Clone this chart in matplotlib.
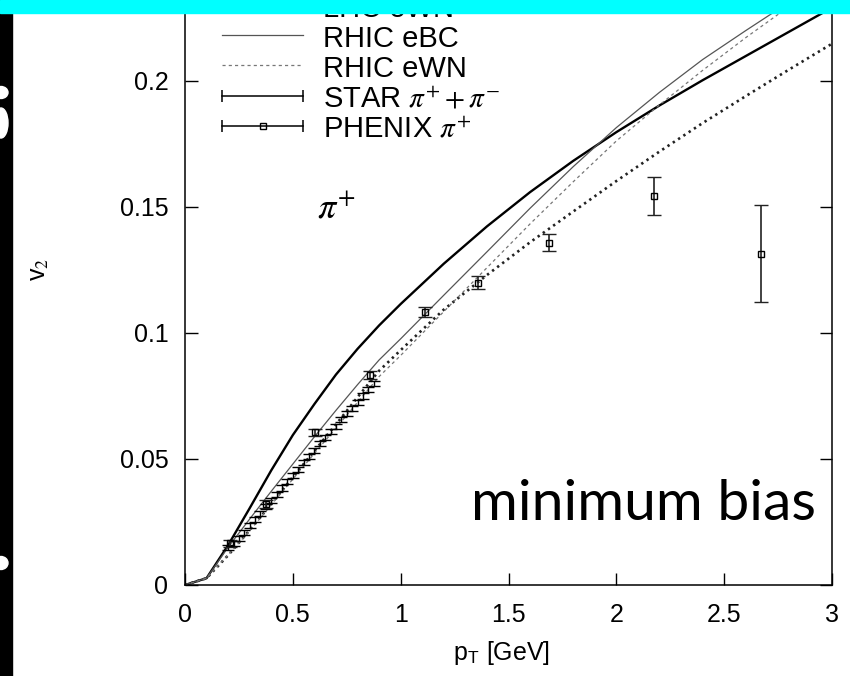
import matplotlib
matplotlib.use('Agg')
import matplotlib.pyplot as plt
from matplotlib.patches import Rectangle, Ellipse
from matplotlib.ticker import MultipleLocator, FormatStrFormatter

plt.rcParams['font.family'] = ['Liberation Sans', 'DejaVu Sans']
plt.rcParams['mathtext.fontset'] = 'stix'

# hydro curves, v2 vs pT
pt_grid = [0, 0.1, 0.2, 0.3, 0.4, 0.5, 0.6, 0.7, 0.8, 0.9, 1.0,
           1.2, 1.4, 1.6, 1.8, 2.0, 2.2, 2.4, 2.6, 2.8, 3.0]
lhc_ebc = [0, 0.0027, 0.0158, 0.0305, 0.0455, 0.0595, 0.0718, 0.0835, 0.0937, 0.1030, 0.1115,
           0.1275, 0.1423, 0.1559, 0.1683, 0.1797, 0.1903, 0.2003, 0.2099, 0.2195, 0.2291]
lhc_ewn = [0, 0.0027, 0.0118, 0.0218, 0.0322, 0.0428, 0.0532, 0.0637, 0.0745, 0.0850, 0.0932,
           0.1093, 0.1230, 0.1360, 0.1482, 0.1603, 0.1720, 0.1833, 0.1940, 0.2045, 0.2148]
rhic_ebc = [0, 0.0027, 0.0150, 0.0262, 0.0372, 0.0480, 0.0588, 0.0693, 0.0795, 0.0893, 0.0977,
            0.1150, 0.1322, 0.1495, 0.1660, 0.1815, 0.1955, 0.2085, 0.2200, 0.2312, 0.2420]
rhic_ewn = [0, 0.0027, 0.0120, 0.0215, 0.0318, 0.0420, 0.0522, 0.0623, 0.0725, 0.0827, 0.0911,
            0.1085, 0.1259, 0.1433, 0.1600, 0.1762, 0.1905, 0.2042, 0.2172, 0.2295, 0.2410]

# STAR pi+ + pi-
star_pt = [0.2, 0.225, 0.25, 0.275, 0.3, 0.325, 0.35, 0.375, 0.4, 0.425,
           0.45, 0.475, 0.5, 0.525, 0.55, 0.575, 0.6, 0.625, 0.65, 0.675,
           0.7, 0.725, 0.75, 0.775, 0.8, 0.825, 0.85, 0.875]
star_v2 = [0.0150, 0.0165, 0.0185, 0.0210, 0.0235, 0.0260, 0.0285, 0.0310, 0.0335, 0.0360,
           0.0385, 0.0410, 0.0435, 0.0460, 0.0485, 0.0510, 0.0535, 0.0560, 0.0585, 0.0610,
           0.0630, 0.0655, 0.0680, 0.0700, 0.0725, 0.0750, 0.0775, 0.0800]
star_err = [0.001] * len(star_pt)

# PHENIX pi+
phenix_pt = [0.208, 0.375, 0.602, 0.856, 1.111, 1.358, 1.69, 2.176, 2.67]
phenix_v2 = [0.0165, 0.0321, 0.0606, 0.0833, 0.1082, 0.1200, 0.1358, 0.1545, 0.1315]
phenix_err = [0.0015, 0.0015, 0.0015, 0.0015, 0.0020, 0.0027, 0.0033, 0.0075, 0.0192]

legend_labels = ['LHC eBC', 'LHC eWN', 'RHIC eBC', 'RHIC eWN',
                 r'STAR $\pi^{+}+\pi^{-}$', r'PHENIX $\pi^{+}$']

W, H = 850, 676
fig = plt.figure(figsize=(W / 100, H / 100), dpi=100)
ax = fig.add_axes([185 / W, 91 / H, 647 / W, 585 / H])

styles = [
    dict(color='k', lw=1.7, ls='-'),
    dict(color='#222222', lw=1.9, ls=(0, (0.9, 1.5))),
    dict(color='#555555', lw=0.9, ls='-'),
    dict(color='#777777', lw=0.9, ls=(0, (2.5, 2.5))),
]
for yv, st in zip([lhc_ebc, lhc_ewn, rhic_ebc, rhic_ewn], styles):
    ax.plot(pt_grid, yv, **st)

ax.errorbar(star_pt, star_v2, yerr=star_err, fmt='none', ecolor='k',
            elinewidth=1, capsize=4, capthick=1)
ax.errorbar(phenix_pt, phenix_v2, yerr=phenix_err, fmt='s', ms=4.5, mfc='none',
            mec='k', mew=1, ecolor='#222222', elinewidth=1.2, capsize=5, capthick=1.2)

ax.set_xlim(0, 3)
ax.set_ylim(0, 585 / 2520)
ax.xaxis.set_major_locator(MultipleLocator(0.5))
ax.yaxis.set_major_locator(MultipleLocator(0.05))
ax.xaxis.set_major_formatter(FormatStrFormatter('%g'))
ax.yaxis.set_major_formatter(FormatStrFormatter('%g'))
ax.tick_params(direction='in', length=9, width=1, top=True, right=True, labelsize=18)
ax.tick_params(axis='y', pad=12)
ax.tick_params(axis='x', pad=13)
for sp in ax.spines.values():
    sp.set_linewidth(1.1)

ax.set_ylabel(r'v$_2$', fontsize=18)
ax.yaxis.set_label_coords(-0.207, 0.54)
ax.set_xlabel(r'p$_\mathregular{T}$ [GeV]', fontsize=18)
ax.xaxis.set_label_coords(0.49, -0.093)

ax.text(0.61, 0.1456, r'$\pi^{+}$', fontsize=26, va='baseline')
ax.text(1.327, 0.0258, 'minimum bias', fontsize=41, family='Lato', va='baseline')

# hand-drawn legend rows (gnuplot style)
hx0, hx1, tx = (222 - 185) / 647, (303 - 185) / 647, (323 - 185) / 647
for i, lab in enumerate(legend_labels):
    row = 126 - (5 - i) * 30.3
    yr = (585 - row) / 585
    yb = (585 - row - 12) / 585
    if i < 4:
        ax.plot([hx0, hx1], [yr, yr], transform=ax.transAxes, clip_on=False, **styles[i])
    else:
        ax.plot([hx0, hx1], [yr, yr], color='k', lw=1.1, marker='|', ms=9, mew=1.1,
                transform=ax.transAxes, clip_on=False)
        if i == 5:
            ax.plot([(hx0 + hx1) / 2], [yr], 's', ms=4, mfc='none', mec='k', mew=1,
                    transform=ax.transAxes, clip_on=False)
    ax.text(tx, yb, lab, fontsize=21, va='baseline', transform=ax.transAxes)

# slide frame remnants
fig.add_artist(Rectangle((0, 0), 12 / W, 1, transform=fig.transFigure, color='k', zorder=10))
for cy, h in [(92.5, 12), (123, 30), (563, 13)]:
    fig.add_artist(Ellipse((1 / W, 1 - cy / H), 14 / W, h / H, transform=fig.transFigure,
                           color='w', zorder=11))
fig.add_artist(Rectangle((0, 1 - 13 / H), 1, 13 / H, transform=fig.transFigure,
                         color='#00ffff', zorder=12))

fig.savefig('out.png', dpi=100)
